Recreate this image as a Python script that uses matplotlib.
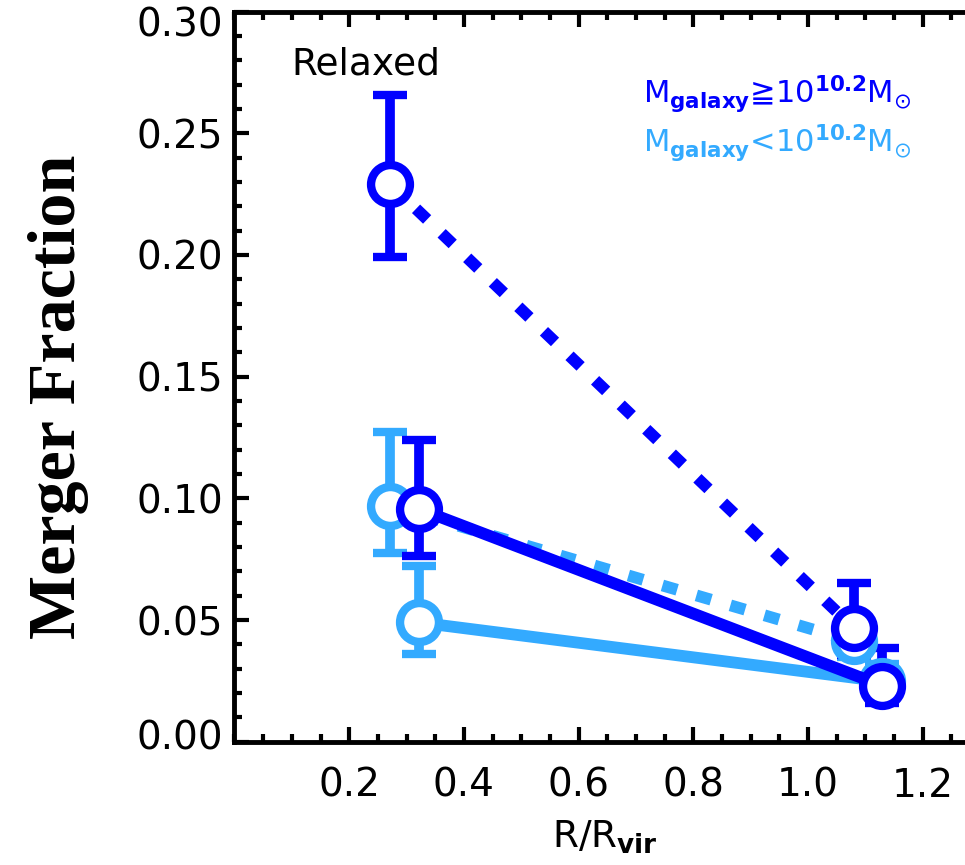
import matplotlib
matplotlib.use("Agg")
import matplotlib.pyplot as plt
import matplotlib.transforms as mtransforms
from matplotlib.ticker import MultipleLocator, FixedLocator, FormatStrFormatter

plt.rcParams["font.family"] = ["DejaVu Sans"]
plt.rcParams["mathtext.fontset"] = "dejavusans"

# radius bins (dashed sample sits slightly left of the solid one)
x_dashed = [0.272, 1.080]
x_solid = [0.322, 1.130]

# high mass galaxies (dark blue)
hi_dashed = [0.229, 0.0467]
hi_dashed_lo = [0.199, 0.0357]
hi_dashed_hi = [0.2657, 0.0652]
hi_solid = [0.0956, 0.0230]
hi_solid_lo = [0.0765, 0.0159]
hi_solid_hi = [0.1240, 0.0385]

# low mass galaxies (light blue)
lo_dashed = [0.0969, 0.0412]
lo_dashed_lo = [0.0775, 0.0350]
lo_dashed_hi = [0.1274, 0.0480]
lo_solid = [0.0490, 0.0248]
lo_solid_lo = [0.0360, 0.0180]
lo_solid_hi = [0.0724, 0.0320]

xticks = [0.2, 0.4, 0.6, 0.8, 1.0, 1.2]
yticks = [0.00, 0.05, 0.10, 0.15, 0.20, 0.25, 0.30]

dark = "#0000ff"
light = "#33aaff"

fig = plt.figure(figsize=(9.65, 8.65), dpi=100)
ax = fig.add_axes([0.2430, 0.1425, 0.7725, 0.8442])


def draw(x, y, lo, hi, color, ls):
    yerr = [[v - l for v, l in zip(y, lo)], [h - v for v, h in zip(y, hi)]]
    line, caps, bars = ax.errorbar(
        x, y, yerr=yerr, color=color, ecolor=color, lw=8.5, ls=ls,
        marker="o", ms=28, mew=6, mfc="white", mec=color,
        elinewidth=7, capsize=12, capthick=7,
    )
    if ls == "--":
        line.set_dashes((1.3, 1.7))
        line.set_dash_capstyle("butt")


draw(x_dashed, lo_dashed, lo_dashed_lo, lo_dashed_hi, light, "--")
draw(x_solid, lo_solid, lo_solid_lo, lo_solid_hi, light, "-")
draw(x_dashed, hi_dashed, hi_dashed_lo, hi_dashed_hi, dark, "--")
draw(x_solid, hi_solid, hi_solid_lo, hi_solid_hi, dark, "-")

ax.set_xlim(0, 1.3)
ax.set_ylim(0, 0.30)
ax.xaxis.set_major_locator(FixedLocator(xticks))
ax.xaxis.set_minor_locator(MultipleLocator(0.05))
ax.yaxis.set_major_locator(FixedLocator(yticks))
ax.yaxis.set_minor_locator(MultipleLocator(0.01))
ax.xaxis.set_major_formatter(FormatStrFormatter("%.1f"))
ax.yaxis.set_major_formatter(FormatStrFormatter("%.2f"))

for s in ax.spines.values():
    s.set_linewidth(3.5)
ax.tick_params(which="both", direction="in", top=True, right=True, width=3)
ax.tick_params(which="major", length=11, labelsize=28)
ax.tick_params(which="minor", length=6)
ax.tick_params(axis="x", which="major", pad=18)
ax.tick_params(axis="y", which="major", pad=8)

# end labels sit a little inside the frame, as in the original
yt = ax.yaxis.get_major_ticks()
yt[0].label1.set_transform(yt[0].label1.get_transform()
                           + mtransforms.ScaledTranslation(0, 0.07, fig.dpi_scale_trans))
yt[-1].label1.set_transform(yt[-1].label1.get_transform()
                            + mtransforms.ScaledTranslation(0, -0.10, fig.dpi_scale_trans))

ax.text(0.0767, 0.9144, "Relaxed", transform=ax.transAxes, fontsize=27,
        ha="left", va="baseline", color="black")
ax.text(0.548, 0.8743,
        "M$_{\\mathbf{galaxy}}$\u226710$^{\\mathbf{10.2}}$M$_{\\odot}$",
        transform=ax.transAxes, fontsize=22, ha="left", va="baseline",
        color=dark)
ax.text(0.548, 0.8066,
        "M$_{\\mathbf{galaxy}}$<10$^{\\mathbf{10.2}}$M$_{\\odot}$",
        transform=ax.transAxes, fontsize=22, ha="left", va="baseline",
        color=light)

fig.text(605 / 965, 1 - 848 / 865, r"R/R$_{\mathbf{vir}}$", fontsize=27,
         ha="center", va="baseline")
fig.text(59 / 965, 1 - 397 / 865, "Merger Fraction", rotation=90,
         fontsize=49, fontweight="bold", family="Liberation Serif",
         ha="center", va="center")

fig.savefig("out.png", dpi=100)
